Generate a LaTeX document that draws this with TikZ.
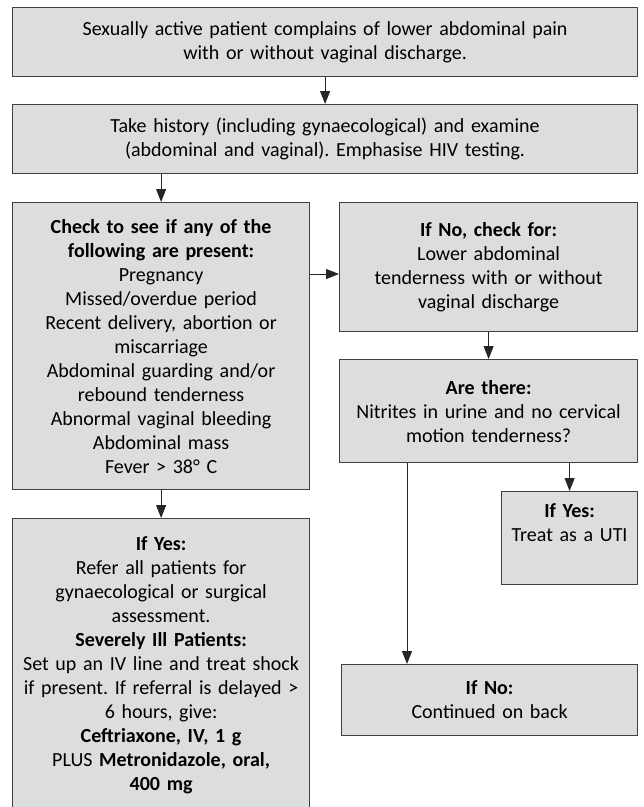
\documentclass[tikz,border=0pt]{standalone}
\usepackage{fontspec}
\setmainfont{Carlito}
\usetikzlibrary{arrows.meta}

\definecolor{boxfill}{RGB}{220,221,223}
\definecolor{boxline}{RGB}{64,64,64}
\frenchspacing

\begin{document}
\begin{tikzpicture}[x=1pt,y=-1pt,
    box/.style={draw=boxline, fill=boxfill, line width=1.2pt, anchor=north west,
      align=center, inner sep=0pt, font=\fontsize{20}{24}\selectfont},
    link/.style={draw=black!85, line width=1pt, -{Triangle[length=13pt,width=10pt]}}]
  \useasboundingbox (0,0) rectangle (644,807);
  \clip (0,0) rectangle (644,807);

  \node[box, text width=625pt, minimum height=69pt] (top) at (12,7)
    {Sexually active patient complains of lower abdominal pain\\with or without vaginal discharge.};
  \node[box, text width=625pt, minimum height=69pt] (hist) at (12,104)
    {Take history (including gynaecological) and examine\\(abdominal and vaginal). Emphasise HIV testing.};

  \node[box, text width=297pt, minimum height=287pt] (check) at (12,202)
    {\textbf{Check to see if any of the}\\\textbf{following are present:}\\Pregnancy\\Missed/overdue period\\
     Recent delivery, abortion or\\miscarriage\\Abdominal guarding and/or\\rebound tenderness\\
     Abnormal vaginal bleeding\\Abdominal mass\\Fever > 38° C};
  \node[box, text width=297pt, minimum height=294pt] (yes) at (12,518)
    {\textbf{If Yes:}\\Refer all patients for\\gynaecological or surgical\\assessment.\\
     \textbf{Severely Ill Patients:}\\Set up an IV line and treat shock\\if present. If referral is delayed >\\
     6 hours, give:\\\textbf{Ceftriaxone, IV, 1 g}\\PLUS \textbf{Metronidazole, oral,}\\\textbf{400 mg}};

  \node[box, text width=298pt, minimum height=129pt] (ifno) at (339,202)
    {\textbf{If No, check for:}\\Lower abdominal\\tenderness with or without\\vaginal discharge};
  \node[box, text width=298pt, minimum height=103pt] (are) at (339,359)
    {\textbf{Are there:}\\Nitrites in urine and no cervical\\motion tenderness?};
  \node[box, text width=136pt, minimum height=93pt] (uti) at (501,491)
    {\textbf{If Yes:}\\Treat as a UTI\\ \strut};
  \node[box, text width=296pt, minimum height=71pt] (no) at (341,664)
    {\textbf{If No:}\\Continued on back};

  \foreach \a/\b in {top/hist, ifno/are, check/yes}{
    \draw[link] (\a) -- (\b);
  }
  \draw[link] (hist.south -| check) -- (check.north);
  \draw[link] (are.south -| uti) -- (uti.north);
  \draw[link] ([yshift=-72pt]check.north east) -- ([yshift=-72pt]check.north east -| ifno.west);
  \draw[link] ([xshift=68pt]are.south west) -- ([xshift=68pt]are.south west |- no.north);
\end{tikzpicture}
\end{document}
